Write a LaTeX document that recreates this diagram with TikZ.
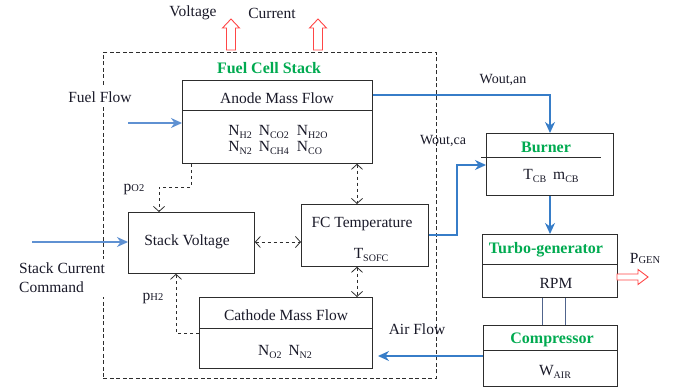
\documentclass[tikz,border=0pt]{standalone}
\usepackage{fontspec}
\setmainfont{Liberation Serif}
\usetikzlibrary{arrows.meta,calc}
\definecolor{flow}{RGB}{55,125,200}
\definecolor{flowlight}{RGB}{95,145,210}
\definecolor{gtxt}{RGB}{0,170,80}
\definecolor{hred}{RGB}{255,70,70}
\definecolor{ink}{RGB}{25,25,40}
\definecolor{edgec}{RGB}{45,45,45}
\definecolor{shaftc}{RGB}{80,100,140}
\newcommand\lo[1]{\raisebox{-0.35ex}{\fontsize{10}{10}\selectfont #1}}
\newcommand\bs[1]{{\fontsize{10.5}{10}\selectfont #1}}
\begin{document}
\begin{tikzpicture}[x=1pt,y=-1pt,
  box/.style={draw=edgec,line width=0.8pt,inner sep=0pt,anchor=north west},
  txt/.style={font=\fontsize{15.5}{17}\selectfont,text=ink,inner sep=1pt},
  lbl/.style={font=\fontsize{14}{16}\selectfont,text=ink,inner sep=1pt},
  gtitle/.style={font=\fontsize{16}{18}\selectfont\bfseries,text=gtxt,inner sep=1pt},
  flowarrow/.style={draw=flow,line width=1.3pt,-{Stealth[length=11pt,width=10pt,inset=3.5pt]}},
  dasharrow/.style={draw=edgec,line width=0.8pt,dash pattern=on 3.5pt off 2.5pt,-{Straight Barb[length=5pt,width=11pt]}},
  dashboth/.style={dasharrow,{Straight Barb[length=5pt,width=11pt]}-{Straight Barb[length=5pt,width=11pt]}},
  hollow/.style={draw=hred,line width=0.9pt,fill=white},
  divline/.style={draw=edgec,line width=0.8pt}]
\useasboundingbox (0,0) rectangle (674,387);

% outer dashed stack box
\node[box,dash pattern=on 4pt off 2.5pt,minimum width=333pt,minimum height=326pt] (stack) at (103,52) {};

% boxes
\node[box,minimum width=190pt,minimum height=83pt] (anode) at (182,80) {};
\node[box,minimum width=126pt,minimum height=61pt] (sv) at (128,212) {};
\node[box,minimum width=127pt,minimum height=62pt] (fct) at (301,204) {};
\node[box,minimum width=173pt,minimum height=71pt] (cath) at (199,297) {};
\node[box,minimum width=127pt,minimum height=62pt] (burn) at (486,133) {};
\node[box,minimum width=135pt,minimum height=63pt] (turbo) at (482,234) {};
\node[box,minimum width=134pt,minimum height=61pt] (comp) at (483,325) {};

% dividers
\draw[divline] ($(anode.north west)+(0,30)$) -- ($(anode.north east)+(0,30)$);
\draw[divline] ($(cath.north west)+(0,31)$) -- ($(cath.north east)+(0,31)$);
\draw[divline] ($(burn.north west)+(-5,24)$) -- ($(burn.north east)+(-13,24)$);
\draw[divline] ($(turbo.north west)+(0,30)$) -- ($(turbo.north east)+(0,30)$);
\draw[divline] ($(comp.north west)+(0,25)$) -- ($(comp.north east)+(0,25)$);

% hollow red arrows
\foreach \x in {231,318}{
  \draw[hollow] (\x-4.5,50) -- (\x-4.5,28) -- (\x-8.5,28) -- (\x,19) -- (\x+8.5,28) -- (\x+4.5,28) -- (\x+4.5,50) -- cycle;
}
\draw[hollow] (617,274) -- (638,274) -- (638,269.5) -- (648,277) -- (638,284.5) -- (638,280) -- (617,280) -- cycle;

% coordinates
\coordinate (ffin) at (128,123);
\coordinate (scin) at (32,242);
\coordinate (an1) at (550,95);
\coordinate (ca1) at (457,235);
\coordinate (ca2) at (457,165);
\coordinate (airend) at (378,356);
\coordinate (po2a) at (191,187);
\coordinate (po2b) at (159,187);
\coordinate (ph2a) at (176,333);

% blue flows
\draw[flowarrow,draw=flowlight] (ffin) -- (ffin -| anode.west);
\draw[flowarrow,draw=flowlight] (scin) -- (scin -| sv.west);
\draw[flowarrow] (anode.east |- an1) -- (an1) -- (an1 |- burn.north);
\draw[flowarrow] (fct.east |- ca1) -- (ca1) -- (ca2) -- (ca2 -| burn.west);
\draw[flowarrow] (burn.south -| an1) -- (turbo.north -| an1);
\draw[flowarrow] (comp.west |- airend) -- (airend);

% shaft lines
\draw[shaftc,line width=1pt] (turbo.south -| 542,0) -- (comp.north -| 542,0);
\draw[shaftc,line width=1pt] (turbo.south -| 565,0) -- (comp.north -| 565,0);

% dashed connections
\draw[dashboth] (sv.east |- scin) -- (fct.west |- scin);
\draw[dashboth] (anode.south -| 357,0) -- (fct.north -| 357,0);
\draw[dashboth] (fct.south -| 357,0) -- (cath.north -| 357,0);
\draw[dasharrow] (anode.south -| po2a) -- (po2a) -- (po2b) -- (po2b |- sv.north);
\draw[dasharrow] (cath.west |- ph2a) -- (ph2a) -- (ph2a |- sv.south);

% texts
\node[txt] (tvolt) at (193,13) {Voltage};
\node[txt] (tcurr) at (272,13) {Current};
\node[gtitle] (tfcs) at (269,68) {Fuel Cell Stack};
\node[txt,fill=white,inner ysep=5pt] (tfuel) at (100,97) {Fuel Flow};
\node[txt] (tanode) at (277,98) {Anode Mass Flow};
\node[txt] (tspec) at (278,140.5) {\begin{tabular}{@{}l@{\hspace{7pt}}l@{\hspace{8pt}}l@{}}N\lo{H2} & N\lo{CO2} & N\lo{H2O}\\[-1pt] N\lo{N2} & N\lo{CH4} & N\lo{CO}\end{tabular}};
\node[txt] (tsv) at (187,242) {Stack Voltage};
\node[txt] (tfct) at (362,224) {FC Temperature};
\node[txt] (tsofc) at (371,255) {T\lo{SOFC}};
\node[txt] (tcath) at (286,315) {Cathode Mass Flow};
\node[txt] (tcspec) at (285,352) {N\lo{O2}\hspace{7pt}N\lo{N2}};
\node[txt] (tpo2) at (134,189) {p\bs{O2}};
\node[txt] (tph2) at (153,298) {p\bs{H2}};
\node[txt,fill=white,align=left,anchor=west,inner xsep=3pt,inner ysep=4pt] (tscc) at (16,278) {Stack Current\\[2pt]Command};
\node[lbl] (twan) at (503,80) {Wout,an};
\node[lbl] (twca) at (443,141) {Wout,ca};
\node[txt] (tair) at (417,329) {Air Flow};
\node[gtitle] (tburn) at (546,147) {Burner};
\node[txt] (tcb) at (551,176) {T\lo{CB}\hspace{7pt}m\lo{CB}};
\node[gtitle] (tturbo) at (546,250) {Turbo-generator};
\node[txt] (trpm) at (556,283) {RPM};
\node[txt] (tpgen) at (645,258) {P\bs{GEN}};
\node[gtitle] (tcomp) at (552,340) {Compressor};
\node[txt] (twair) at (555,372) {W\lo{AIR}};
\end{tikzpicture}
\end{document}
